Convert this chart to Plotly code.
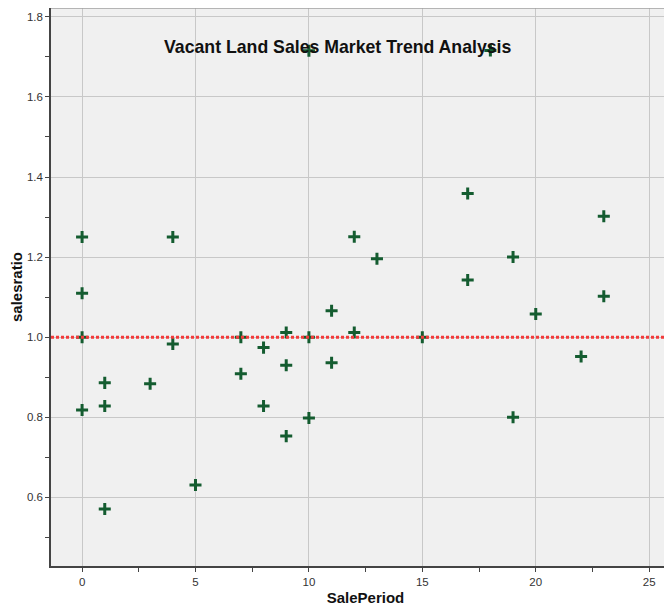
import plotly.graph_objects as go

# Data
sale_period = [0, 0, 0, 0, 1, 1, 1, 3, 4, 4, 5, 7, 7, 8, 8, 9, 9, 9,
               10, 10, 10, 11, 11, 12, 12, 13, 15, 17, 17, 18, 19, 19, 20, 22, 23, 23]
sales_ratio = [1.25, 1.11, 1.00, 0.818, 0.886, 0.828, 0.571, 0.884, 1.25, 0.983, 0.631,
               1.00, 0.909, 0.974, 0.828, 1.012, 0.930, 0.753,
               1.715, 1.00, 0.798, 1.066, 0.936, 1.251, 1.012, 1.196, 1.00,
               1.359, 1.143, 1.716, 1.200, 0.800, 1.058, 0.952, 1.302, 1.102]
reference_ratio = 1.0
title_text = "Vacant Land Sales Market Trend Analysis"
x_title = "SalePeriod"
y_title = "salesratio"

fig = go.Figure()
fig.add_trace(go.Scatter(
    x=sale_period, y=sales_ratio, mode="markers",
    marker=dict(symbol="cross-thin", size=8.6, color="#145c30",
                line=dict(width=3, color="#145c30")),
    showlegend=False, hoverinfo="x+y",
))

fig.add_shape(type="line", xref="paper", yref="y", x0=0, x1=1,
              y0=reference_ratio, y1=reference_ratio,
              line=dict(color="#f23a3a", width=3, dash="3px,2px"), layer="above")
fig.add_shape(type="line", xref="paper", yref="paper", x0=0, x1=1, y0=1, y1=1,
              line=dict(color="#a0a0a0", width=1.5), layer="above")

# The page shows the figure offset by 8px (body margin); margins below compensate.
fig.add_annotation(text="<b>" + title_text + "</b>", xref="paper", yref="paper",
                   x=0.4555, y=0.930,
                   xanchor="center", yanchor="middle", showarrow=False,
                   font=dict(family="Liberation Sans, Arial", size=17.7, color="#111111"))

axis_font = dict(family="Liberation Sans, Arial", size=11.5, color="#333333")
title_font = dict(family="Liberation Sans, Arial", size=15, color="#111111")

fig.update_layout(
    width=672, height=605,
    margin=dict(l=43, r=0, t=0, b=47),
    paper_bgcolor="white", plot_bgcolor="#f0f0f0",
    xaxis=dict(range=[-1.37, 26.36], tick0=0, dtick=5, showgrid=True,
               gridcolor="#c8c8c8", gridwidth=1, zeroline=False,
               showline=True, linecolor="#444444", linewidth=1.5,
               ticks="outside", ticklen=4, tickcolor="#444444",
               tickfont=axis_font,
               minor=dict(dtick=2.5, tick0=0, ticks="outside", ticklen=4,
                          tickcolor="#444444", showgrid=False),
               title=dict(text="<b>" + x_title + "</b>", font=title_font, standoff=6)),
    yaxis=dict(range=[0.4287, 1.822], tick0=0, dtick=0.2, tickformat=".1f",
               showgrid=True, gridcolor="#c8c8c8", gridwidth=1, zeroline=False,
               showline=True, linecolor="#444444", linewidth=1.5,
               ticks="outside", ticklen=4, tickcolor="#444444",
               tickfont=axis_font,
               minor=dict(dtick=0.1, tick0=0, ticks="outside", ticklen=4,
                          tickcolor="#444444", showgrid=False),
               title=dict(text="<b>" + y_title + "</b>", font=title_font, standoff=6)),
)

fig.write_html("out.html")
